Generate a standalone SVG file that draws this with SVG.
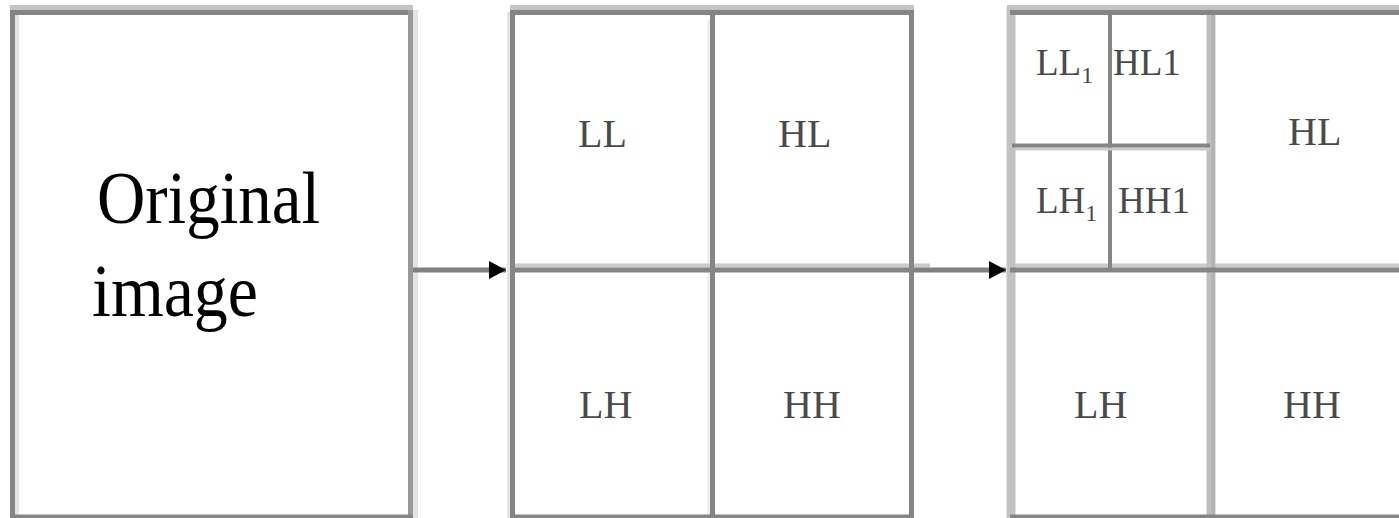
<svg xmlns="http://www.w3.org/2000/svg" width="1399" height="518" viewBox="0 0 1399 518">
<style>
.dk{stroke:#858585;stroke-width:5;fill:none}
.lt{stroke:#c4c4c4;fill:none}
.pl{stroke:#e4e4e4;fill:none}
.big{font-family:"Liberation Serif","Times New Roman",serif;font-size:74px;fill:#000}
.lab{font-family:"Liberation Serif","Times New Roman",serif;font-size:40px;fill:#4a4a4a}
.sm{font-family:"Liberation Serif","Times New Roman",serif;font-size:37px;fill:#4a4a4a}
</style>
<defs>
<marker id="ah" markerWidth="18" markerHeight="20" refX="17" refY="10" orient="auto" markerUnits="userSpaceOnUse">
<path d="M0,1 L17,10 L0,19 Z" fill="#000"/>
</marker>
</defs>
<rect width="1399" height="518" fill="#fff"/>

<g id="box-original">
<line class="lt" x1="10" y1="7.5" x2="413" y2="7.5" stroke-width="5"/>
<line class="pl" x1="17" y1="15" x2="17" y2="515" stroke-width="4"/>
<line class="pl" x1="415.5" y1="10" x2="415.5" y2="518" stroke-width="5"/>
<line class="dk" x1="10" y1="12.5" x2="413" y2="12.5"/>
<line class="dk" x1="12.5" y1="10" x2="12.5" y2="518"/>
<line class="dk" x1="410.5" y1="10" x2="410.5" y2="518" style="stroke:#999"/>
<line class="dk" x1="10" y1="517" x2="413" y2="517"/>
<text class="big" x="97" y="223" textLength="223" lengthAdjust="spacingAndGlyphs">Original</text>
<text class="big" x="92" y="316" textLength="166" lengthAdjust="spacingAndGlyphs">image</text>
</g>

<g id="box-level1">
<line class="lt" x1="510" y1="7.5" x2="914" y2="7.5" stroke-width="5"/>
<line class="pl" x1="508.5" y1="12" x2="508.5" y2="518" stroke-width="3"/>
<line class="pl" x1="708.5" y1="20" x2="708.5" y2="518" stroke-width="3" style="stroke:#efefef"/>
<line class="lt" x1="515" y1="265.5" x2="930" y2="265.5" stroke-width="4" style="stroke:#cacaca"/>
<line class="dk" x1="510" y1="12.5" x2="914" y2="12.5"/>
<line class="dk" x1="512.5" y1="10" x2="512.5" y2="518"/>
<line class="dk" x1="712.5" y1="10" x2="712.5" y2="518"/>
<line class="dk" x1="911.5" y1="10" x2="911.5" y2="518"/>
<line class="dk" x1="510" y1="270" x2="914" y2="270"/>
<line class="dk" x1="510" y1="517" x2="914" y2="517"/>
<text class="lab" x="578" y="147">LL</text>
<text class="lab" x="778" y="147">HL</text>
<text class="lab" x="579" y="418">LH</text>
<text class="lab" x="783" y="418">HH</text>
</g>

<g id="box-level2">
<line class="lt" x1="1007" y1="7.5" x2="1399" y2="7.5" stroke-width="5"/>
<line class="lt" x1="1015" y1="265.5" x2="1399" y2="265.5" stroke-width="4" style="stroke:#cacaca"/>
<line class="lt" x1="1011" y1="8" x2="1011" y2="518" stroke-width="9" style="stroke:#c2c2c2"/>
<line class="lt" x1="1211" y1="8" x2="1211" y2="518" stroke-width="9" style="stroke:#bfbfbf"/>
<line x1="1213" y1="15" x2="1213" y2="518" stroke="#b2b2b2" stroke-width="3"/>
<line class="dk" x1="1010" y1="12.5" x2="1399" y2="12.5"/>
<line class="dk" x1="1110" y1="12" x2="1110" y2="270" style="stroke-width:4"/>
<line class="lt" x1="1015" y1="149" x2="1210" y2="149" stroke-width="3" style="stroke:#cacaca"/>
<line class="dk" x1="1012" y1="145.5" x2="1210" y2="145.5" style="stroke-width:4"/>
<line class="dk" x1="1010" y1="270" x2="1399" y2="270"/>
<line class="dk" x1="1010" y1="517" x2="1399" y2="517"/>
<text class="sm" x="1036" y="75">LL<tspan font-size="24" dy="8">1</tspan></text>
<text class="sm" x="1113" y="75">HL1</text>
<text class="sm" x="1036" y="213">LH<tspan font-size="24" dy="8">1</tspan></text>
<text class="sm" x="1118" y="213">HH1</text>
<text class="lab" x="1288" y="145">HL</text>
<text class="lab" x="1074" y="418">LH</text>
<text class="lab" x="1283" y="418">HH</text>
</g>

<g id="connectors">
<line x1="413" y1="270" x2="506" y2="270" stroke="#808080" stroke-width="5" marker-end="url(#ah)"/>
<line x1="914" y1="270" x2="1006" y2="270" stroke="#808080" stroke-width="5" marker-end="url(#ah)"/>
</g>
</svg>
